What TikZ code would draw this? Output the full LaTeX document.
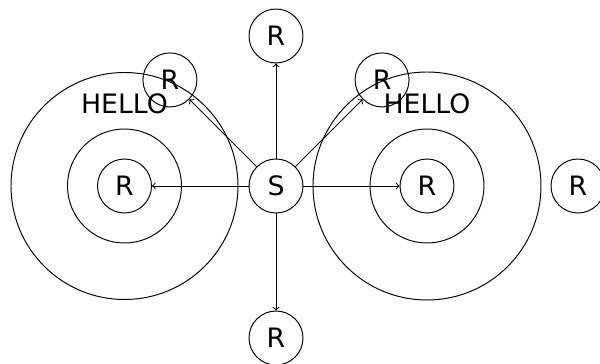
\documentclass[tikz,border=0pt]{standalone}
\usepackage{fontspec}
\setmainfont{DejaVu Sans}
\usepackage{tikz}

\begin{document}
\begin{tikzpicture}[font=\fontsize{15.2}{18}\selectfont,line width=0.55pt,
    rnode/.style={draw,circle,minimum size=1.08cm,inner sep=0pt}]
    \useasboundingbox (-5.52,-3.56) rectangle (6.48,3.72);
    \node[rnode] (s) at (0,0) {S};
    \node[rnode] (up) at (0,3) {R};
    \node[rnode] (down) at (0,-3.04) {R};
    \node[rnode] (west) at (-3.03,0) {R};
    \node[rnode] (east) at (3.02,0) {R};
    \node[rnode] (nw) at (135:3) {R};
    \node[rnode] (ne) at (45:3) {R};
    \node[rnode] (far) at (6.04,0) {R};
    % rings round the two side receivers
    \draw (west.center) circle (1.14);
    \draw (west.center) circle (2.27);
    \draw (east.center) circle (1.14);
    \draw (east.center) circle (2.28);
    \node (hw) at (-3.03,1.64) {HELLO};
    \node (he) at (3.02,1.64) {HELLO};
    \draw[->] (s) -- (up);
    \draw[->] (s) -- (down);
    \draw[->] (s) -- (west);
    \draw[->] (s) -- (east);
    \draw[->] (s) -- (nw);
    \draw[->] (s) -- (ne);
  \end{tikzpicture}
\end{document}
